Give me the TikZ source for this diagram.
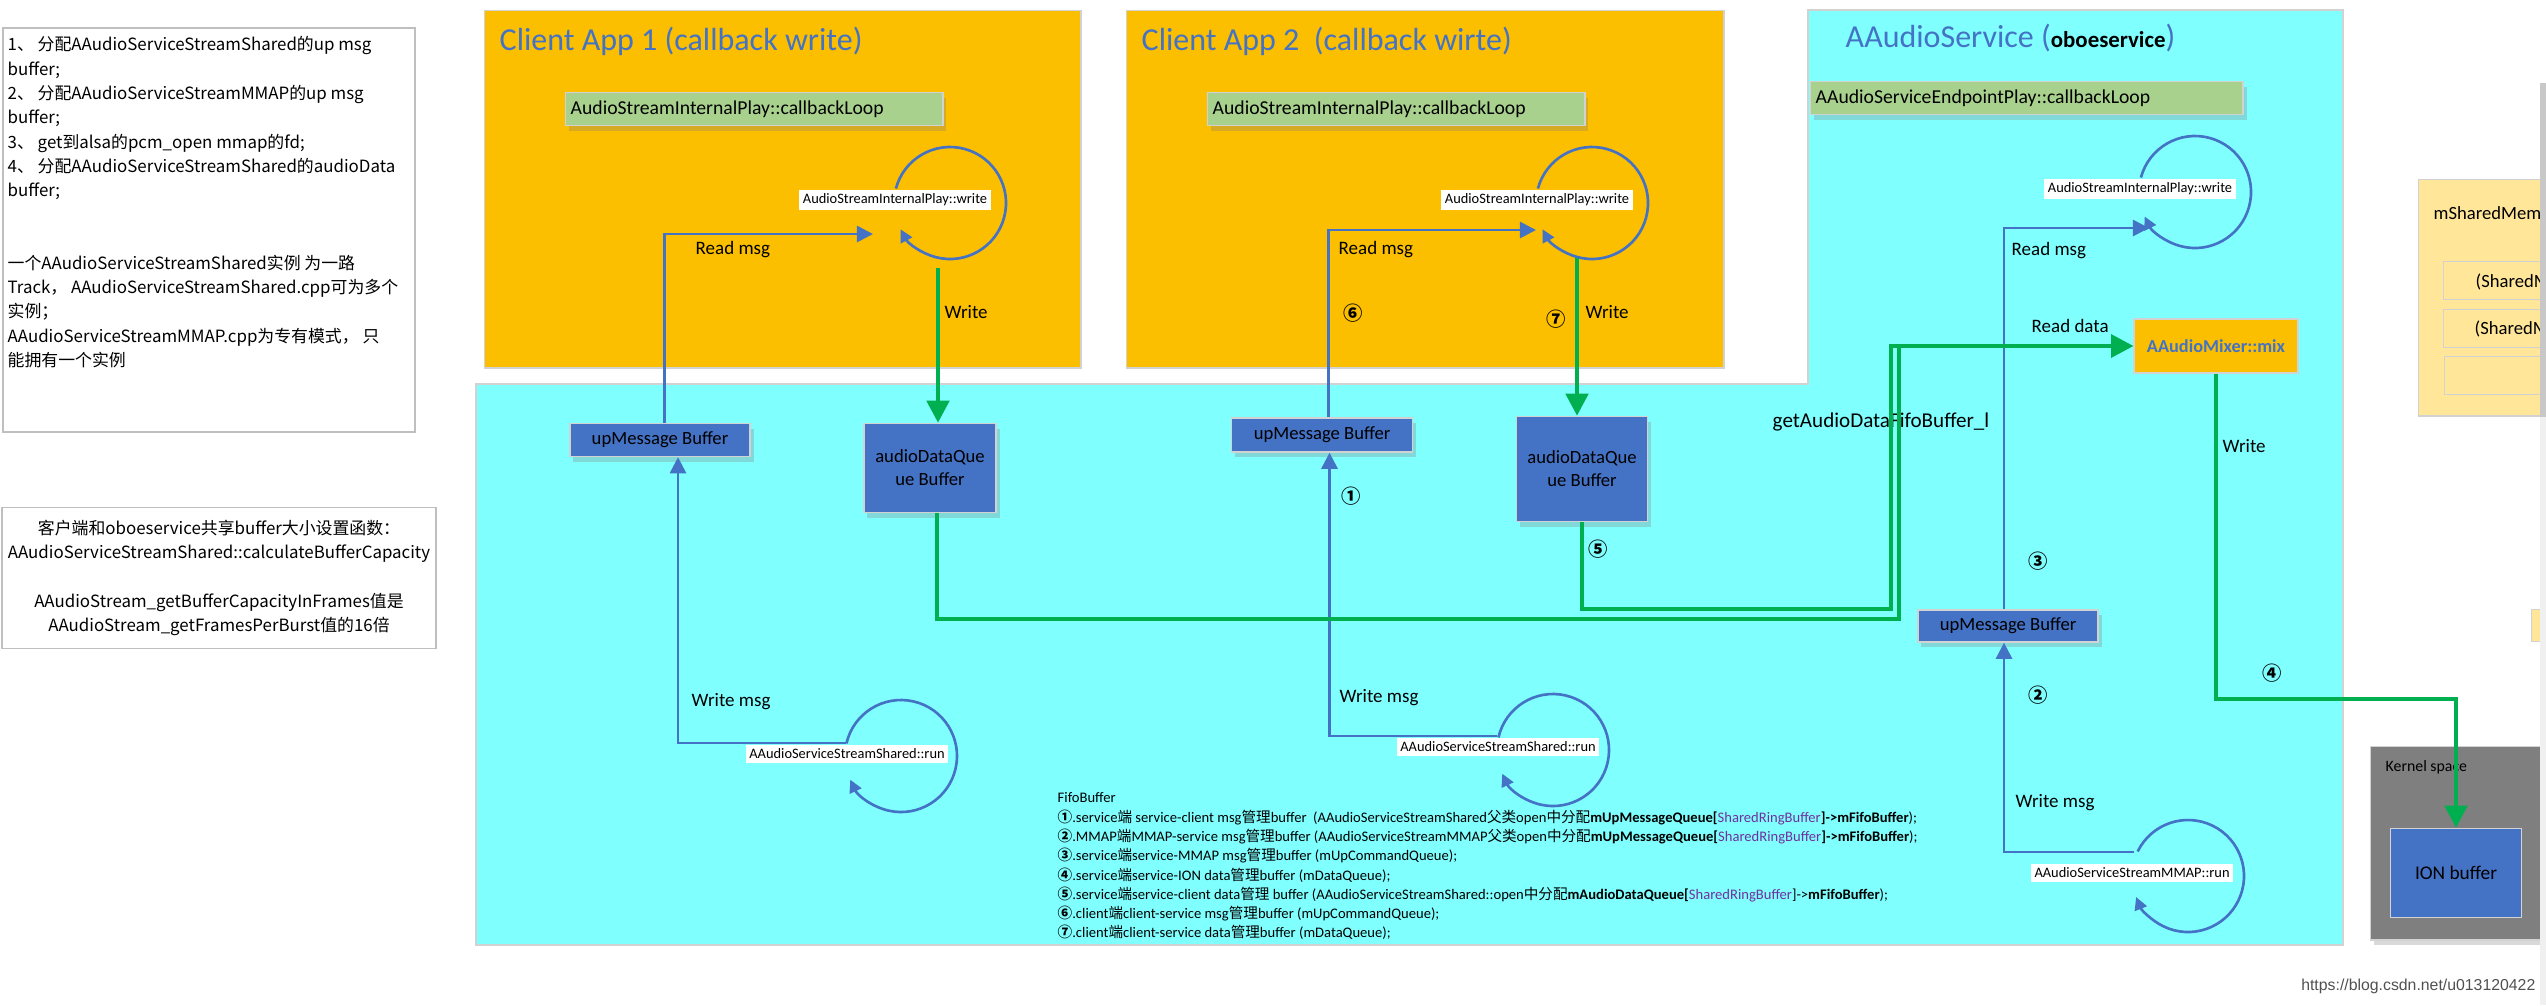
\documentclass[tikz,border=0pt]{standalone}
\usepackage{fontspec}
\setmainfont{Carlito}
\newfontfamily\cjk{Noto Sans CJK SC}
\newfontfamily\wmfont{Liberation Sans}
\usetikzlibrary{arrows.meta,shadows,positioning}
\definecolor{appcol}{RGB}{251,191,0}
\definecolor{svccol}{RGB}{128,255,255}
\definecolor{loopcol}{RGB}{169,209,142}
\definecolor{bufcol}{RGB}{68,114,196}
\definecolor{titlecol}{RGB}{68,114,196}
\definecolor{datacol}{RGB}{0,176,80}
\definecolor{shmcol}{RGB}{255,230,153}
\definecolor{kernelcol}{RGB}{127,127,127}
\definecolor{edgecol}{RGB}{210,210,210}
\definecolor{notecol}{RGB}{191,191,191}
\definecolor{ringcol}{RGB}{112,48,160}
\definecolor{wmcol}{RGB}{80,80,80}
\definecolor{stripdark}{RGB}{200,200,200}
\definecolor{striplight}{RGB}{240,240,240}
\newcommand{\zh}[1]{{\cjk #1}}

\begin{document}
\begin{tikzpicture}[x=0.01cm, y=-0.01cm]

      \tikzset{region/.style={draw=edgecol, line width=0.4pt, inner sep=0pt},
        note/.style={draw=notecol, fill=white, line width=0.5pt, inner sep=0pt},
        notetext/.style={inner sep=0pt, align=left, font=\fontsize{4.8}{6.9}\selectfont\cjk},
        apptitle/.style={anchor=base west, inner sep=0pt, text=titlecol, font=\fontsize{9.1}{10.9}\selectfont},
        loopbox/.style={draw=edgecol, fill=loopcol, anchor=north west, minimum height=0.33cm, inner xsep=0.05cm, inner ysep=0pt, align=left, font=\fontsize{5.6}{6.7}\selectfont, drop shadow={shadow xshift=1pt, shadow yshift=-1.5pt, opacity=0.3}},
        buffer/.style={draw=edgecol, fill=bufcol, inner sep=0pt, align=center, font=\fontsize{5.3}{6.5}\selectfont, drop shadow={shadow xshift=1pt, shadow yshift=-1.5pt, opacity=0.3}},
        looplabel/.style={fill=white, inner xsep=1pt, inner ysep=1.2pt, font=\fontsize{4.1}{4.9}\selectfont},
        lbl/.style={anchor=west, inner sep=0pt, font=\fontsize{5.4}{6.5}\selectfont},
        num/.style={inner sep=0pt, font=\fontsize{5.5}{6}\selectfont\cjk\bfseries},
        legend/.style={inner sep=0pt, align=left, font=\fontsize{4.15}{5.49}\selectfont},
        loopline/.style={draw=bufcol, line width=0.75pt, -{Triangle[length=3.6pt, width=3.6pt]}},
        msgline/.style={draw=bufcol, line width=0.75pt, -{Triangle[length=4.6pt, width=4.6pt]}},
        dataline/.style={draw=datacol, line width=1.3pt, -{Triangle[length=6.3pt, width=6.3pt]}}}
      \useasboundingbox (0,0) rectangle (2546,1005);

%% Regions
      \path[region, fill=svccol] (476,384) -- (1808,384) -- (1808,10) -- (2343,10) -- (2343,945) -- (476,945) -- cycle;
      \node[region, fill=appcol, anchor=north west, minimum width=5.96cm, minimum height=3.57cm] (app1) at (484,10) {};
      \node[region, fill=appcol, anchor=north west, minimum width=5.97cm, minimum height=3.57cm] (app2) at (1126,10) {};
      \begin{scope}
        \clip (2300,0) rectangle (2540,1005);
        \node[region, fill=shmcol, anchor=north west, minimum width=1.4cm, minimum height=2.36cm] (shm) at (2418,179) {};
        \node[region, fill=shmcol, anchor=north west, minimum width=1.2cm, minimum height=0.38cm] (shm1) at (2443,261) {};
        \node[region, fill=shmcol, anchor=north west, minimum width=1.2cm, minimum height=0.38cm] (shm2) at (2443,309) {};
        \node[region, fill=shmcol, anchor=north west, minimum width=1.2cm, minimum height=0.38cm] (shm3) at (2444,356) {};
        \node[lbl, font=\fontsize{5.3}{6.4}\selectfont] (shmname) at (2433,213) {mSharedMem};
        \node[lbl, font=\fontsize{5.3}{6.4}\selectfont] (shm1text) at (2475,282) {(SharedM};
        \node[lbl, font=\fontsize{5.3}{6.4}\selectfont] (shm2text) at (2474,329) {(SharedM};
        \node[region, fill=shmcol, anchor=north west, minimum width=0.2cm, minimum height=0.32cm] (tab) at (2531,609) {};
        \node[region, fill=kernelcol, anchor=north west, minimum width=1.8cm, minimum height=1.93cm, drop shadow={shadow xshift=1pt, shadow yshift=-1.5pt, opacity=0.3}] (kernel) at (2370,746) {};
      \end{scope}
      \fill[stripdark] (2540,83) rectangle (2546,417);
      \fill[striplight] (2540,417) rectangle (2546,1005);

%% Notes
      \node[note, anchor=north west, minimum width=4.12cm, minimum height=4.04cm] (note1) at (2,27) {};
      \node[notetext, anchor=north west] (note1text) at (7,36) {1、 分配AAudioServiceStreamShared的up msg\\buffer;\\2、 分配AAudioServiceStreamMMAP的up msg\\buffer;\\3、 get到alsa的pcm\_open mmap的fd;\\4、 分配AAudioServiceStreamShared的audioData\\buffer;\\[13.8pt]一个AAudioServiceStreamShared实例 为一路\\Track， AAudioServiceStreamShared.cpp可为多个\\实例；\\AAudioServiceStreamMMAP.cpp为专有模式， 只\\能拥有一个实例};
      \node[note, minimum width=4.34cm, minimum height=1.41cm, align=center, font=\fontsize{4.8}{6.9}\selectfont\cjk] (note2) at (219,578) {客户端和oboeservice共享buffer大小设置函数：\\AAudioServiceStreamShared::calculateBufferCapacity\\[6.9pt]AAudioStream\_getBufferCapacityInFrames值是\\AAudioStream\_getFramesPerBurst值的16倍};

%% Titles
      \node[apptitle] (app1title) at (499,50) {Client App 1 (callback write)};
      \node[apptitle] (app2title) at (1141,50) {Client App 2\ \ (callback wirte)};
      \node[apptitle] (svctitle) at (1845,47) {AAudioService (\textcolor{black}{\fontsize{6.5}{7.5}\selectfont\bfseries oboeservice})};

%% Vertices
      \node[loopbox, text width=3.67cm] (cbloop1) at (565,92) {AudioStreamInternalPlay::callbackLoop};
      \node[loopbox, text width=3.67cm] (cbloop2) at (1207,92) {AudioStreamInternalPlay::callbackLoop};
      \node[loopbox, text width=4.22cm] (cbloop3) at (1810,81) {AAudioServiceEndpointPlay::callbackLoop};
      \node[buffer, minimum width=1.8cm, minimum height=0.33cm] (upmsg1) at (660,440) {upMessage Buffer};
      \node[buffer, minimum width=1.32cm, minimum height=0.89cm] (dataq1) at (930,468) {audioDataQue\\ue Buffer};
      \node[buffer, minimum width=1.81cm, minimum height=0.34cm] (upmsg2) at (1322,435) {upMessage Buffer};
      \node[buffer, minimum width=1.31cm, minimum height=1.05cm] (dataq2) at (1582,469) {audioDataQue\\ue Buffer};
      \node[buffer, minimum width=1.8cm, minimum height=0.32cm] (upmsg3) at (2008,626) {upMessage Buffer};
      \node[draw=edgecol, fill=appcol, minimum width=1.64cm, minimum height=0.54cm, inner sep=0pt, text=titlecol, font=\fontsize{5.2}{6}\selectfont\bfseries] (mixer) at (2216,346) {AAudioMixer::mix};
      \node[buffer, minimum width=1.31cm, minimum height=0.89cm, font=\fontsize{5.5}{6.6}\selectfont] (ion) at (2456,873) {ION buffer};
      \node[lbl, font=\fontsize{4.5}{5.4}\selectfont] (kspace) at (2385,767) {Kernel space};

%% Loops
      \coordinate (L1) at (950,203);
      \coordinate (L2) at (1592,203);
      \coordinate (L3) at (2195,192);
      \coordinate (R1) at (901,756);
      \coordinate (R2) at (1553,750);
      \coordinate (R3) at (2188,876);
      \draw[loopline] (L1) ++(195:56) arc[start angle=195, end angle=512, radius=56];
      \draw[loopline] (L2) ++(195:56) arc[start angle=195, end angle=512, radius=56];
      \draw[loopline] (L3) ++(195:56) arc[start angle=195, end angle=514, radius=56];
      \draw[loopline] (R1) ++(193:56) arc[start angle=193, end angle=515, radius=56];
      \draw[loopline] (R2) ++(193:56) arc[start angle=193, end angle=515, radius=56];
      \draw[loopline] (R3) ++(206:56) arc[start angle=206, end angle=518, radius=56];
      \node[looplabel] (w1) at (895,200) {AudioStreamInternalPlay::write};
      \node[looplabel] (w2) at (1537,200) {AudioStreamInternalPlay::write};
      \node[looplabel] (w3) at (2140,189) {AudioStreamInternalPlay::write};
      \node[looplabel] (run1) at (847,754) {AAudioServiceStreamShared::run};
      \node[looplabel] (run2) at (1498,747) {AAudioServiceStreamShared::run};
      \node[looplabel] (run3) at (2132,873) {AAudioServiceStreamMMAP::run};

%% Labels
      \node[lbl] (readmsg1) at (695,250) {Read msg};
      \node[lbl] (write1) at (944,312) {Write};
      \node[lbl] (readmsg2) at (1338,250) {Read msg};
      \node[lbl] (write2) at (1585,312) {Write};
      \node[lbl] (readmsg3) at (2011,251) {Read msg};
      \node[lbl] (readdata) at (2031,326) {Read data};
      \node[lbl] (write3) at (2222,446) {Write};
      \node[lbl] (writemsg1) at (691,702) {Write msg};
      \node[lbl] (writemsg2) at (1339,698) {Write msg};
      \node[lbl] (writemsg3) at (2015,803) {Write msg};
      \node[lbl, font=\fontsize{6}{7}\selectfont] (getfifo) at (1772,422) {getAudioDataFifoBuffer\_l};
      \node[num] (n6) at (1353,313) {⑥};
      \node[num] (n7) at (1556,319) {⑦};
      \node[num] (n1) at (1351,496) {①};
      \node[num] (n5) at (1598,549) {⑤};
      \node[num] (n3) at (2038,561) {③};
      \node[num] (n2) at (2038,695) {②};
      \node[num] (n4) at (2272,673) {④};

%Edges
      \coordinate (rd1) at (873,234);
      \coordinate (rd2) at (1536,230);
      \coordinate (rd3) at (2149,228);
      \coordinate (wr1) at (846,743);
      \coordinate (wr2) at (1497,736);
      \coordinate (wr3) at (2134,852);
      \coordinate (gw1) at (938,268);
      \coordinate (gw2) at (1577,258);
      \coordinate (j1) at (1899,619);
      \coordinate (j2) at (1891,609);
      \coordinate (j4) at (2456,699);
      \draw[msgline] ([xshift=0.045cm]upmsg1.north) |- (rd1);
      \draw[msgline] (wr1) -| ([xshift=0.18cm]upmsg1.south);
      \draw[msgline] ([xshift=0.065cm]upmsg2.north) |- (rd2);
      \draw[msgline] (wr2) -| ([xshift=0.075cm]upmsg2.south);
      \draw[msgline] ([xshift=-0.04cm]upmsg3.north) |- (rd3);
      \draw[msgline] (wr3) -| ([xshift=-0.04cm]upmsg3.south);
      \draw[dataline] (gw1) -- (gw1 |- dataq1.north);
      \draw[dataline] (gw2) -- (gw2 |- dataq2.north);
      \draw[dataline] ([xshift=0.07cm]dataq1.south) |- (j1) |- (mixer.west);
      \draw[dataline] (dataq2.south) |- (j2) |- (mixer.west);
      \draw[dataline] (mixer.south) |- (j4) -- (ion.north);

%% Legend
      \node[legend, anchor=north west] (fifo) at (1057,792) {FifoBuffer\\
        \zh{\bfseries ①}.service\zh{端} service-client msg\zh{管理}buffer\ \ (AAudioServiceStreamShared\zh{父类}open\zh{中分配}\textbf{mUpMessageQueue[}\textcolor{ringcol}{SharedRingBuffer}\textbf{]->mFifoBuffer});\\
        \zh{\bfseries ②}.MMAP\zh{端}MMAP-service msg\zh{管理}buffer (AAudioServiceStreamMMAP\zh{父类}open\zh{中分配}\textbf{mUpMessageQueue[}\textcolor{ringcol}{SharedRingBuffer}\textbf{]->mFifoBuffer});\\
        \zh{\bfseries ③}.service\zh{端}service-MMAP msg\zh{管理}buffer (mUpCommandQueue);\\
        \zh{\bfseries ④}.service\zh{端}service-ION data\zh{管理}buffer (mDataQueue);\\
        \zh{\bfseries ⑤}.service\zh{端}service-client data\zh{管理} buffer (AAudioServiceStreamShared::open\zh{中分配}\textbf{mAudioDataQueue[}\textcolor{ringcol}{SharedRingBuffer}]->\textbf{mFifoBuffer});\\
        \zh{\bfseries ⑥}.client\zh{端}client-service msg\zh{管理}buffer (mUpCommandQueue);\\
        \zh{\bfseries ⑦}.client\zh{端}client-service data\zh{管理}buffer (mDataQueue);};

      \node[anchor=east, inner sep=0pt, text=wmcol, font=\fontsize{4.5}{5.4}\selectfont\wmfont] (mark) at (2536,986) {https://blog.csdn.net/u013120422};

	\end{tikzpicture}
\end{document}
